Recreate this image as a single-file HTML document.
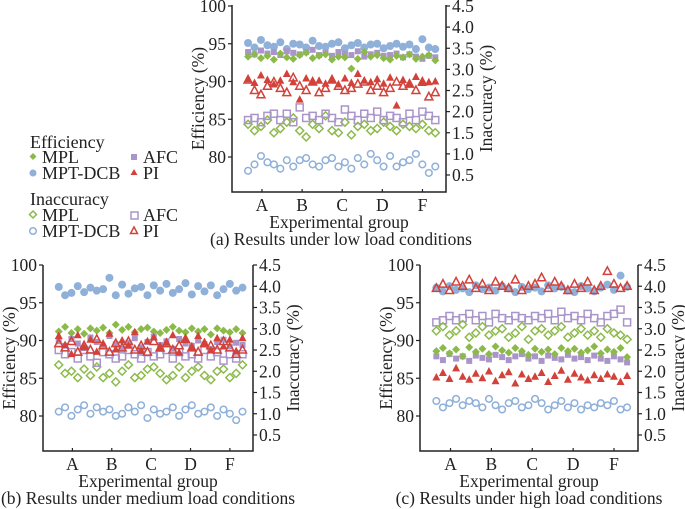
<!DOCTYPE html>
<html><head><meta charset="utf-8">
<style>
body{margin:0;background:#fff;width:685px;height:509px;overflow:hidden}
svg{display:block;font-family:"Liberation Serif",serif}
</style></head>
<body>
<svg id="root" width="685" height="509" viewBox="0 0 685 509">
<g id="legend" font-size="18" fill="#222">
  <text x="30" y="148">Efficiency</text>
  <path d="M33 153 l3.5 3.5 -3.5 3.5 -3.5 -3.5z" fill="#8cba4a"/>
  <text x="42" y="163">MPL</text>
  <circle cx="33" cy="173" r="3.5" fill="#8fb0d9"/>
  <text x="42" y="179">MPT-DCB</text>
  <rect x="131" y="154" width="6" height="6" fill="#a995c9"/>
  <text x="143" y="163">AFC</text>
  <path d="M134 169 l3.5 6 h-7z" fill="#d2423a"/>
  <text x="143" y="179">PI</text>
  <text x="30" y="205">Inaccuracy</text>
  <path d="M33 211 l3.5 3.5 -3.5 3.5 -3.5 -3.5z" fill="none" stroke="#8cba4a" stroke-width="1.5"/>
  <text x="42" y="221">MPL</text>
  <circle cx="33" cy="231" r="3.3" fill="none" stroke="#8fb0d9" stroke-width="1.5"/>
  <text x="42" y="237">MPT-DCB</text>
  <rect x="131" y="212" width="7" height="7" fill="none" stroke="#a995c9" stroke-width="1.5"/>
  <text x="143" y="221">AFC</text>
  <path d="M134 227 l3.5 6.5 h-7z" fill="none" stroke="#d2423a" stroke-width="1.5"/>
  <text x="143" y="237">PI</text>
</g>
</svg>
<script>
const categories = ["A","B","C","D","F"];
const tickIdx = [2.6,10.1,17.6,25.1,32.6];
const effTicks = [100,95,90,85,80];
const inaccTicks = [4.5,4.0,3.5,3.0,2.5,2.0,1.5,1.0,0.5];

const aEffMPL=[93.3,93.6,93.1,93.4,92.9,93.7,93.2,93.0,93.5,93.8,93.1,93.4,93.6,92.9,93.3,93.2,91.7,93.0,93.9,93.3,93.5,93.1,92.9,93.4,93.2,93.6,93.0,93.3,93.5,92.8];
const aEffDCB=[95.1,94.5,95.5,94.8,94.6,95.2,94.3,95.0,94.9,94.5,95.4,94.7,94.6,95.0,95.2,94.4,94.8,95.1,94.5,94.9,95.0,94.4,94.7,95.0,94.6,94.9,94.3,95.6,94.5,94.3];
const aEffAFC=[93.9,93.6,94.1,93.7,93.9,93.5,94.0,93.8,93.6,93.9,94.2,93.5,93.8,93.4,93.9,93.7,93.5,94.0,93.3,93.6,93.8,93.4,93.5,93.7,93.2,93.6,93.3,93.0,93.4,93.2];
const aEffPI=[90.3,89.8,90.8,90.2,89.6,90.1,91.0,89.9,87.6,90.4,89.9,90.1,89.7,90.2,89.6,90.4,89.8,91.0,90.1,89.9,90.3,89.7,90.5,86.8,90.2,89.6,90.6,89.8,89.9,90.0];
const aInMPL=[1.7,1.55,1.65,1.8,1.5,1.6,1.75,1.85,1.55,1.4,1.7,1.6,1.9,1.55,1.5,1.75,1.45,1.65,1.7,1.55,1.6,1.75,1.65,1.55,1.7,1.65,1.6,1.7,1.55,1.5];
const aInDCB=[0.6,0.75,0.95,0.8,0.75,0.65,0.85,0.7,0.85,0.9,0.75,0.7,0.85,0.9,0.7,0.8,0.65,0.9,0.75,1.0,0.85,0.7,0.95,0.7,0.8,0.85,1.0,0.75,0.55,0.7];
const aInAFC=[1.8,1.85,1.75,1.9,1.95,1.8,1.95,1.75,2.1,1.85,1.9,1.8,1.95,1.85,1.75,2.05,1.9,1.8,1.95,1.85,2.0,1.8,1.9,1.85,1.75,1.95,1.8,2.0,1.9,1.8];
const aInPI=[2.75,2.5,2.4,2.6,2.7,2.55,2.45,2.8,2.6,2.5,2.7,2.45,2.55,2.75,2.6,2.5,2.55,2.65,2.7,2.5,2.6,2.45,2.55,2.7,2.6,2.65,2.5,2.7,2.35,2.45];

const bEffMPL=[91.2,91.8,91.0,91.5,90.9,91.6,91.3,91.7,91.0,92.1,91.4,91.8,91.1,91.5,91.7,91.2,91.0,91.4,91.8,91.3,91.1,91.6,91.2,91.5,90.8,91.6,91.3,91.1,91.5,91.0];
const bEffDCB=[97.1,96.0,96.3,97.2,96.4,97.0,96.6,96.8,98.3,96.0,97.4,96.2,96.9,97.1,96.0,97.3,96.6,97.5,96.3,96.8,97.6,96.1,97.2,96.5,97.3,96.0,96.8,97.5,96.6,97.0];
const bEffAFC=[89.9,89.3,90.2,89.6,89.0,90.4,89.8,89.2,90.6,89.5,88.9,89.7,90.3,89.1,89.8,90.5,89.4,89.9,88.9,90.2,89.6,89.3,90.0,89.5,88.9,89.8,90.1,89.2,89.7,89.4];
const bEffPI=[90.6,89.4,88.2,90.7,89.1,90.1,88.5,89.6,90.9,88.8,90.0,89.3,91.1,88.6,89.9,90.4,88.9,89.7,90.7,88.4,90.2,89.0,90.6,89.5,88.7,90.3,89.2,90.1,88.6,90.3];
const bInMPL=[2.15,1.95,2.0,1.85,2.05,1.9,2.1,1.85,1.95,1.75,2.0,2.15,1.85,1.9,2.05,2.1,1.95,1.8,1.9,2.1,1.85,2.0,2.1,1.9,1.8,2.0,2.05,1.85,1.95,2.15];
const bInDCB=[1.05,1.15,0.95,1.1,1.2,1.0,1.15,1.05,1.1,0.95,1.0,1.15,1.05,1.2,0.9,1.1,1.0,1.05,1.15,0.95,1.1,1.2,1.0,1.05,1.15,0.95,1.1,1.0,0.85,1.05];
const bInAFC=[2.5,2.4,2.45,2.3,2.5,2.35,2.2,2.45,2.4,2.3,2.35,2.5,2.4,2.3,2.45,2.35,2.4,2.5,2.3,2.45,2.35,2.4,2.3,2.5,2.35,2.45,2.25,2.4,2.3,2.4];
const bInPI=[2.65,2.55,2.7,2.45,2.6,2.5,2.75,2.6,2.45,2.65,2.55,2.7,2.5,2.6,2.45,2.7,2.55,2.65,2.5,2.6,2.75,2.55,2.45,2.65,2.6,2.5,2.7,2.55,2.4,2.5];

const cEffMPL=[88.6,89.0,88.3,88.8,87.9,89.1,88.5,88.9,88.2,89.2,88.7,88.4,89.0,88.6,88.1,88.9,88.5,88.8,88.2,89.0,88.6,88.9,88.4,88.7,89.2,88.3,88.8,88.5,89.0,87.8];
const cEffDCB=[97.0,96.5,97.2,96.7,96.9,96.4,97.3,96.8,97.0,96.6,97.2,96.9,96.4,97.1,96.8,97.0,96.5,97.3,96.9,97.1,96.6,96.4,97.2,96.9,96.5,97.0,97.4,96.7,98.6,97.1];
const cEffAFC=[87.9,87.4,88.2,87.6,87.9,87.3,88.0,87.7,87.5,88.1,87.8,87.4,87.9,88.2,87.6,87.9,87.3,88.0,87.7,87.5,88.1,87.6,87.8,87.4,88.0,87.6,87.3,87.9,87.5,87.1];
const cEffPI=[85.1,85.7,84.9,86.3,85.2,84.8,85.6,85.0,85.9,84.6,85.4,85.8,84.3,85.5,84.9,85.2,85.7,84.5,85.3,86.0,84.8,85.6,85.1,84.7,85.4,84.9,85.5,85.2,84.5,85.3];
const cInMPL=[2.95,3.05,2.85,2.95,3.1,2.8,2.9,3.05,2.85,2.95,3.0,2.8,2.9,3.05,2.75,2.95,3.0,2.85,2.95,3.05,2.8,2.9,3.0,2.85,2.95,2.8,3.0,2.9,2.85,2.75];
const cInDCB=[1.3,1.15,1.25,1.35,1.2,1.3,1.25,1.15,1.35,1.2,1.1,1.25,1.3,1.15,1.2,1.35,1.25,1.1,1.2,1.3,1.15,1.25,1.1,1.2,1.15,1.25,1.2,1.3,1.1,1.15];
const cInAFC=[3.15,3.2,3.3,3.2,3.25,3.35,3.2,3.3,3.15,3.35,3.25,3.2,3.3,3.25,3.2,3.3,3.25,3.35,3.2,3.4,3.25,3.3,3.2,3.35,3.25,3.15,3.3,3.35,3.45,3.15];
const cInPI=[3.95,4.05,3.9,4.1,4.0,4.15,3.95,4.05,3.9,4.1,4.0,3.95,4.15,3.9,4.0,4.05,4.2,3.95,4.1,4.0,3.9,4.05,3.95,4.1,3.9,4.0,4.35,4.05,3.95,4.0];

const NS="http://www.w3.org/2000/svg";
const root=document.getElementById('root');
const COL={mpl:"#8cba4a",dcb:"#8fb0d9",afc:"#a995c9",pi:"#d2423a"};
const FS=17.5;
function mk(tag,attrs,parent){const e=document.createElementNS(NS,tag);for(const k in attrs)e.setAttribute(k,attrs[k]);parent.appendChild(e);return e;}

function marker(g,shape,color,filled,x,y){
  let e;
  const f=filled?color:"none", s=filled?"none":color;
  if(shape==="diamond"){e=mk('path',{d:`M${x} ${y-4} L${x+4} ${y} L${x} ${y+4} L${x-4} ${y}Z`,fill:f,stroke:s,'stroke-width':1.5},g);}
  else if(shape==="circle"){e=mk('circle',{cx:x,cy:y,r:filled?4:3.3,fill:f,stroke:s,'stroke-width':1.5},g);}
  else if(shape==="square"){const h=filled?3:3.5;e=mk('rect',{x:x-h,y:y-h,width:2*h,height:2*h,fill:f,stroke:s,'stroke-width':1.5},g);}
  else {e=mk('path',{d:`M${x} ${y-4.5} L${x+4} ${y+3} L${x-4} ${y+3}Z`,fill:f,stroke:s,'stroke-width':1.5},g);}
  
  
}

function chart(id,L,R,T,B,y100,y80,yI45,yI05,series,caption){
  const g=mk('g',{},root);
  
  
  const yE=v=>y100+(100-v)*(y80-y100)/20;
  const yI=v=>yI45+(4.5-v)*(yI05-yI45)/4;
  const w=R-L, x0=L+0.075*w, x1=L+0.95*w;
  const N=30;
  const xS=i=>x0+i*(x1-x0)/(N-1);
  const xT=t=>x0+t*(x1-x0)/35;
  const ax=mk('path',{d:`M${L} ${T} V${B} H${R} V${T}`,fill:"none",stroke:"#222",'stroke-width':1.5},g);
  
  
  effTicks.forEach(v=>{
    const y=yE(v);
    const t=mk('line',{x1:L-4,x2:L,y1:y,y2:y,stroke:"#222",'stroke-width':1.2},g);
    
    
    const tx=mk('text',{x:L-6,y:y+6,'text-anchor':'end','font-size':FS,fill:'#222'},g);
    tx.textContent=v;
    
    
  });
  inaccTicks.forEach(v=>{
    const y=yI(v);
    const t=mk('line',{x1:R,x2:R+4,y1:y,y2:y,stroke:"#222",'stroke-width':1.2},g);
    
    
    const tx=mk('text',{x:R+6,y:y+6,'font-size':FS,fill:'#222'},g);
    tx.textContent=v.toFixed(1);
    
    
  });
  categories.forEach((c,i)=>{
    const x=xT(tickIdx[i]);
    const tk=mk('line',{x1:x,x2:x,y1:B,y2:B-3,stroke:"#222",'stroke-width':1.2},g);
    
    
    const tx=mk('text',{x:x,y:B+19,'text-anchor':'middle','font-size':FS,fill:'#222'},g);
    tx.textContent=c;
    
    
  });
  const xt=mk('text',{x:(L+R)/2,y:B+36,'text-anchor':'middle','font-size':FS,fill:'#222'},g);
  xt.textContent="Experimental group";
  
  
  const yl=mk('text',{transform:`translate(${L-28},${(T+B)/2}) rotate(-90)`,'text-anchor':'middle','font-size':FS,fill:'#222'},g);
  yl.textContent="Efficiency (%)";
  
  
  const yr=mk('text',{transform:`translate(${R+46},${(T+B)/2}) rotate(-90)`,'text-anchor':'middle','font-size':FS,fill:'#222'},g);
  yr.textContent="Inaccuracy (%)";
  
  
  const cp=mk('text',{x:(L+R)/2+(id==='a'?2:0),y:B+53,'text-anchor':'middle','font-size':FS,fill:'#222'},g);
  cp.textContent=caption;
  
  
  series.forEach(s=>{
    const sg=mk('g',{},g);
    
    
    s.vals.forEach((v,i)=>marker(sg,s.shape,s.color,s.filled,xS(i),s.eff?yE(v):yI(v)));
  });
}
function S(name,vals,shape,color,filled,eff){return {name,vals,shape,color,filled,eff};}

chart('a',232,446,5,192,6,157,6,175,[
  S('inacc-mpt-dcb',aInDCB,'circle',COL.dcb,false,false),
  S('inacc-mpl',aInMPL,'diamond',COL.mpl,false,false),
  S('inacc-afc',aInAFC,'square',COL.afc,false,false),
  S('inacc-pi',aInPI,'tri',COL.pi,false,false),
  S('eff-pi',aEffPI,'tri',COL.pi,true,true),
  S('eff-mpt-dcb',aEffDCB,'circle',COL.dcb,true,true),
  S('eff-afc',aEffAFC,'square',COL.afc,true,true),
  S('eff-mpl',aEffMPL,'diamond',COL.mpl,true,true)
],"(a) Results under low load conditions");

chart('b',43,253,265,451,265,416,265,435,[
  S('eff-mpt-dcb',bEffDCB,'circle',COL.dcb,true,true),
  S('inacc-mpt-dcb',bInDCB,'circle',COL.dcb,false,false),
  S('inacc-mpl',bInMPL,'diamond',COL.mpl,false,false),
  S('eff-mpl',bEffMPL,'diamond',COL.mpl,true,true),
  S('eff-afc',bEffAFC,'square',COL.afc,true,true),
  S('inacc-afc',bInAFC,'square',COL.afc,false,false),
  S('eff-pi',bEffPI,'tri',COL.pi,true,true),
  S('inacc-pi',bInPI,'tri',COL.pi,false,false)
],"(b) Results under medium load conditions");

chart('c',420,638,265,451,265,416,265,435,[
  S('eff-mpt-dcb',cEffDCB,'circle',COL.dcb,true,true),
  S('inacc-pi',cInPI,'tri',COL.pi,false,false),
  S('inacc-afc',cInAFC,'square',COL.afc,false,false),
  S('inacc-mpl',cInMPL,'diamond',COL.mpl,false,false),
  S('eff-afc',cEffAFC,'square',COL.afc,true,true),
  S('eff-mpl',cEffMPL,'diamond',COL.mpl,true,true),
  S('eff-pi',cEffPI,'tri',COL.pi,true,true),
  S('inacc-mpt-dcb',cInDCB,'circle',COL.dcb,false,false)
],"(c) Results under high load conditions");
</script>
</body></html>
